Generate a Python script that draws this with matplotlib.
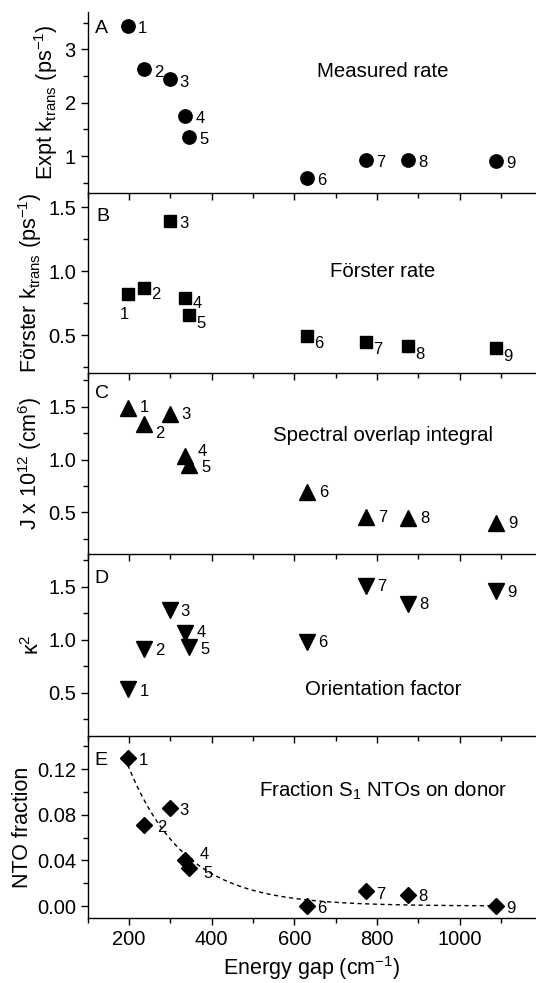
import numpy as np
import matplotlib
matplotlib.use('Agg')
from matplotlib import pyplot as plt
from matplotlib.ticker import MultipleLocator

plt.rcParams['font.family'] = ['Liberation Sans', 'DejaVu Sans']
plt.rcParams['mathtext.fontset'] = 'custom'
plt.rcParams['mathtext.rm'] = 'Liberation Sans'
plt.rcParams['mathtext.it'] = 'Liberation Sans:italic'
plt.rcParams['mathtext.default'] = 'regular'

# energy gap of the nine compounds (cm-1)
energy_gap = [197, 236, 298, 336, 346, 630, 773, 875, 1088]
point_labels = ['1', '2', '3', '4', '5', '6', '7', '8', '9']

expt_rate = [3.44, 2.63, 2.44, 1.76, 1.36, 0.60, 0.93, 0.93, 0.91]
forster_rate = [0.82, 0.865, 1.39, 0.79, 0.655, 0.495, 0.45, 0.415, 0.40]
overlap_J = [1.49, 1.34, 1.43, 1.03, 0.95, 0.695, 0.46, 0.45, 0.40]
kappa_sq = [0.53, 0.91, 1.28, 1.06, 0.93, 0.98, 1.51, 1.34, 1.46]
nto_fraction = [0.130, 0.071, 0.086, 0.040, 0.033, 0.000, 0.013, 0.0096, 0.000]

# exponential decay fit drawn in panel E
fit_amp = 0.121
fit_x0 = 200
fit_tau = 138

fig = plt.figure(figsize=(5.36, 9.83), dpi=100)

left = 87.7 / 536
width = 1 - left
# panel edges in pixels from the top
edges = [12, 193, 373, 554, 736, 918]

panels = [
    dict(y=expt_rate, marker='o', ms=9.6, ylim=(0.31, 3.70), major=1, minor=0.5,
         ylabel=r'Expt k$_{trans}$ (ps$^{-1}$)', letter='A', letter_off=(7, -8),
         title='Measured rate', title_y=2.59,
         offs=[(10, -3)] * 9),
    dict(y=forster_rate, marker='s', ms=9, ylim=(0.205, 1.61), major=0.5, minor=0.25,
         ylabel=r'Förster k$_{trans}$ (ps$^{-1}$)', letter='B', letter_off=(9, -15),
         title='Förster rate', title_y=1.0,
         offs=[(-3, -20), (7, -6), (10, -2), (7, -5), (7, -8), (7, -8), (7, -8), (7, -8), (7, -8)]),
    dict(y=overlap_J, marker='^', ms=11, ylim=(0.105, 1.82), major=0.5, minor=0.25,
         ylabel=r'J x 10$^{12}$ (cm$^{6}$)', letter='C', letter_off=(7, -12),
         title='Spectral overlap integral', title_y=1.23,
         offs=[(12, 0), (11, -10), (12, 0), (12, 5), (12, -3), (12, -1), (12, -1), (12, -1), (12, -1)]),
    dict(y=kappa_sq, marker='v', ms=11, ylim=(0.09, 1.81), major=0.5, minor=0.25,
         ylabel='κ$^{2}$', letter='D', letter_off=(7, -16),
         title='Orientation factor', title_y=0.525,
         offs=[(12, -2), (11, -1), (11, -1), (11, 1), (11, -2), (11, -1), (11, -1), (11, -1), (11, -1)]),
    dict(y=nto_fraction, marker='D', ms=8.6, ylim=(-0.0105, 0.149), major=0.04, minor=0.02,
         ylabel='NTO fraction', letter='E', letter_off=(7, -16),
         title='Fraction S$_{1}$ NTOs on donor', title_y=0.101,
         offs=[(11, -3), (13, -2), (10, -3), (14, 6), (14, -5), (10, -2), (10, -3), (10, -1), (10, -2)]),
]

axes = []
for i, p in enumerate(panels):
    top, bot = edges[i], edges[i + 1]
    ax = fig.add_axes([left, 1 - bot / 983, width, (bot - top) / 983])
    axes.append(ax)

    ax.plot(energy_gap, p['y'], linestyle='none', marker=p['marker'],
            ms=p['ms'], color='black')
    for x, y, lab, (dx, dy) in zip(energy_gap, p['y'], point_labels, p['offs']):
        ha = 'center' if dx < 0 else 'left'
        ax.annotate(lab, (x, y), xytext=(dx, dy), textcoords='offset pixels',
                    ha=ha, va='center', fontsize=12)

    ax.text(815, p['title_y'], p['title'], ha='center', va='center', fontsize=14.7)
    ax.annotate(p['letter'], (0, 1), xycoords='axes fraction',
                xytext=p['letter_off'], textcoords='offset pixels',
                ha='left', va='top', fontsize=14)

    ax.set_xlim(100, 1185)
    ax.set_ylim(*p['ylim'])
    ax.xaxis.set_major_locator(MultipleLocator(200))
    ax.xaxis.set_minor_locator(MultipleLocator(100))
    ax.yaxis.set_major_locator(MultipleLocator(p['major']))
    ax.yaxis.set_minor_locator(MultipleLocator(p['minor']))
    ax.spines['top'].set_visible(False)
    ax.spines['right'].set_visible(False)
    for s in ['left', 'bottom']:
        ax.spines[s].set_linewidth(1.0)
    ax.tick_params(which='major', direction='out', length=5, width=1.0, labelsize=14.5)
    ax.tick_params(which='minor', direction='out', length=3.5, width=1.0)
    ax.set_ylabel(p['ylabel'], fontsize=15.5, labelpad=3)
    if i < 4:
        ax.tick_params(labelbottom=False)
    ax.patch.set_alpha(0)

# dashed fit in panel E
xfit = np.linspace(energy_gap[0], energy_gap[-1], 300)
yfit = fit_amp * np.exp(-(xfit - fit_x0) / fit_tau)
axes[4].plot(xfit, yfit, linestyle=(0, (3, 2.5)), color='black', lw=1.0, zorder=1)
axes[4].set_xlabel('Energy gap (cm$^{-1}$)', fontsize=15.5)

fig.savefig('out.png', dpi=100)
